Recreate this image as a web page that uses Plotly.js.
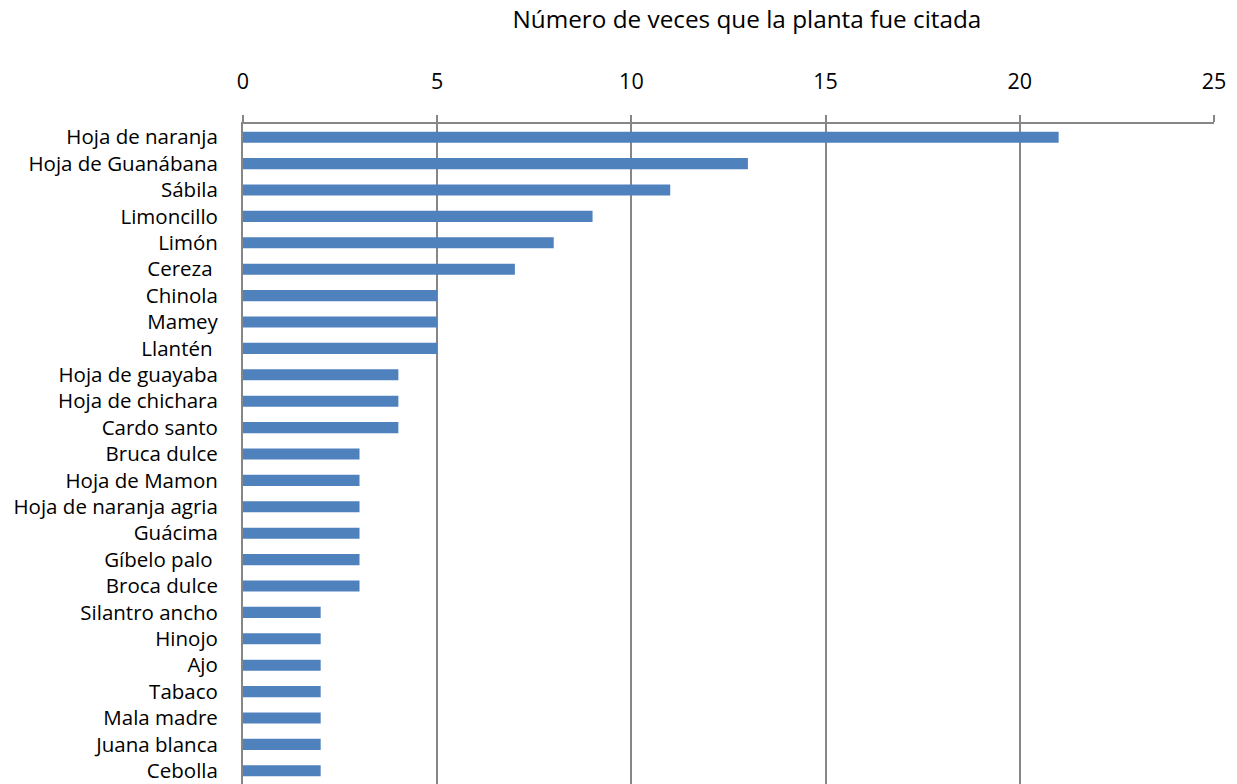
<!DOCTYPE html>
<html>
<head>
<meta charset="utf-8">
<script src="https://cdn.plot.ly/plotly-3.0.1.min.js"></script>
<style>
  body { margin: 0; background: #fff; }
  #chart { width: 1237px; height: 784px; }
</style>
</head>
<body>
<div id="chart"></div>
<script>
// plantas citadas, de arriba hacia abajo
var plantas = [
    'Hoja de naranja', 'Hoja de Guanábana', 'Sábila', 'Limoncillo', 'Limón',
    'Cereza ', 'Chinola', 'Mamey', 'Llantén ', 'Hoja de guayaba',
    'Hoja de chichara', 'Cardo santo', 'Bruca dulce', 'Hoja de Mamon',
    'Hoja de naranja agria', 'Guácima', 'Gíbelo palo ', 'Broca dulce',
    'Silantro ancho', 'Hinojo', 'Ajo', 'Tabaco', 'Mala madre',
    'Juana blanca', 'Cebolla'
];
var veces = [21, 13, 11, 9, 8, 7, 5, 5, 5, 4, 4, 4, 3, 3, 3, 3, 3, 3, 2, 2, 2, 2, 2, 2, 2];
var xTicks = [0, 5, 10, 15, 20, 25];

var fontFam = '"Open Sans", "Noto Sans", sans-serif';
var grey = '#868686';

var bars = [{
    type: 'bar',
    orientation: 'h',
    x: veces,
    y: plantas,
    marker: {color: '#4F81BD'},
    hoverinfo: 'x+y'
}];

var layout = {
    width: 1237,
    height: 784,
    margin: {l: 243, r: 23, t: 124, b: 0},
    paper_bgcolor: '#fff',
    plot_bgcolor: '#fff',
    bargap: 0.58,
    showlegend: false,
    font: {family: fontFam, color: '#000'},
    title: {
        text: 'Número de veces que la planta fue citada',
        font: {family: fontFam, size: 24.3, color: '#000'},
        x: 0.519, xref: 'paper', xanchor: 'center',
        y: 0.975, yref: 'container', yanchor: 'middle'
    },
    xaxis: {
        side: 'top',
        range: [0, 25],
        tickvals: xTicks,
        ticks: 'outside',
        ticklen: 7,
        tickcolor: grey,
        tickwidth: 1.5,
        ticklabelstandoff: 17,
        tickfont: {size: 21.5, family: fontFam},
        showgrid: true,
        gridcolor: grey,
        gridwidth: 1.5,
        zeroline: false,
        showline: true,
        linecolor: grey,
        linewidth: 2,
        fixedrange: true
    },
    yaxis: {
        autorange: 'reversed',
        type: 'category',
        ticks: '',
        ticklabelstandoff: 19,
        tickfont: {size: 20.5, family: fontFam},
        showline: true,
        linecolor: grey,
        linewidth: 2,
        showgrid: false,
        zeroline: false,
        fixedrange: true
    }
};

Plotly.newPlot('chart', bars, layout, {displayModeBar: false});
</script>
</body>
</html>
